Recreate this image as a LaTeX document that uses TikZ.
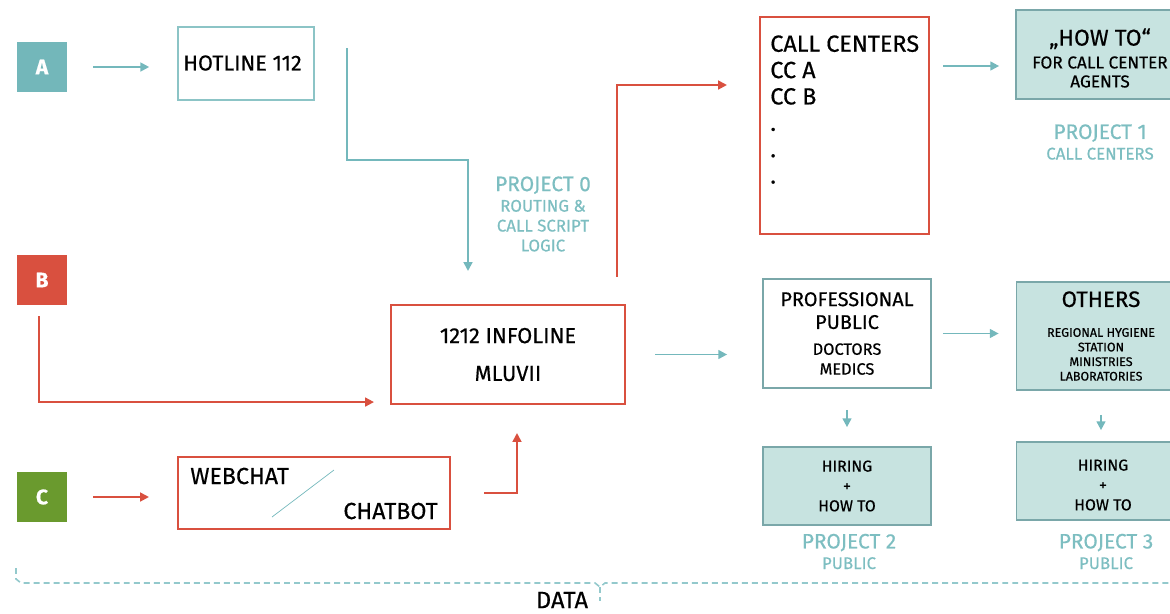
\documentclass[tikz,border=0pt]{standalone}
\usepackage{fontspec}
\setmainfont{Fira Sans}[FakeBold=0.5]
\usetikzlibrary{arrows.meta, positioning}
\definecolor{tealline}{HTML}{74B8BC}
\definecolor{tealfill}{HTML}{73B7BA}
\definecolor{redline}{HTML}{D9503F}
\definecolor{greenfill}{HTML}{6A9A2E}
\definecolor{lightfill}{HTML}{C7E3E0}
\definecolor{darkedge}{HTML}{7AA7A9}
\definecolor{hotedge}{HTML}{8CC4C6}
\definecolor{projtext}{HTML}{7DBEC1}
\definecolor{datadash}{HTML}{93C9CC}
\newcommand{\fsz}[2]{\fontsize{#1}{#2}\selectfont}

\begin{document}
\begin{tikzpicture}[
    x=0.02cm, y=-0.02cm,
    letter/.style={rectangle, minimum size=1cm, inner sep=0pt, text=white, font=\bfseries\fsz{12}{14}},
    box/.style={rectangle, draw, line width=1.2pt, inner sep=0pt, align=center},
    lightbox/.style={box, fill=lightfill, draw=darkedge, line width=1pt},
    proj/.style={text=projtext, align=center, inner sep=0pt, font=\fsz{9.6}{11.3}},
    tealarrow/.style={-{Triangle[length=5pt, width=5pt]}, tealline, line width=1.1pt},
    redarrow/.style={-{Triangle[length=5pt, width=5pt]}, redline, line width=1.1pt}
]
\useasboundingbox (0,0) rectangle (1170,613);
\clip (0,0) rectangle (1170,613);

\node[letter, fill=tealfill] (A) at (42,67) {A};
\node[letter, fill=redline] (B) at (42,280) {B};
\node[letter, fill=greenfill] (C) at (42,497) {C};

\node[box, draw=hotedge, line width=0.9pt, minimum width=2.72cm, minimum height=1.46cm] (hotline) at (246,63.5) {};
\node[font=\fsz{12.3}{14}, inner sep=0pt] (hottext) at (242.5,63) {HOTLINE 112};
\node[box, draw=redline, minimum width=4.68cm, minimum height=1.98cm, font=\fsz{12.4}{21.5}] (infoline) at (508,354.5) {1212 INFOLINE\\MLUVII};

\node[box, draw=redline, minimum width=5.44cm, minimum height=1.44cm] (webchat) at (314,493) {};
\node[anchor=west, inner sep=0pt, font=\fsz{13.2}{15}] (webtext) at (190,476) {WEBCHAT};
\node[anchor=east, inner sep=0pt, font=\fsz{13.2}{15}] (bottext) at (438,511) {CHATBOT};
\draw[tealline, line width=0.4pt] (272,517) -- (334,470);

\node[box, draw=redline, minimum width=3.38cm, minimum height=4.34cm] (callcenters) at (844.5,125.5) {};
\node[anchor=north west, inner sep=0pt, align=left, font=\fsz{13.3}{15}] (cclist) at (770,35) {CALL CENTERS\\CC A\\CC B\\.\\.\\.};

\node[lightbox, minimum width=3.38cm, minimum height=1.78cm] (howto) at (1100.5,54.5) {};
\node[align=center, inner sep=0pt, font=\fsz{9.8}{10.8}] (howtotext) at (1100,58) {{\fsz{13}{15}„HOW TO“}\\[2.2pt]FOR CALL CENTER\\AGENTS};
\node[box, draw=darkedge, line width=1pt, minimum width=3.36cm, minimum height=2.18cm, font=\fsz{9.3}{11.3}] (professional) at (847,333.5) {{\fsz{11.3}{13}PROFESSIONAL}\\[1.7pt]{\fsz{11.3}{13}PUBLIC}\\[3.4pt]DOCTORS\\MEDICS};
\node[lightbox, minimum width=3.38cm, minimum height=2.16cm, font=\fsz{7.1}{8.3}] (others) at (1101,336) {{\fsz{12.7}{15}OTHERS}\\[8.7pt]REGIONAL HYGIENE\\STATION\\MINISTRIES\\LABORATORIES};
\node[lightbox, minimum width=3.36cm, minimum height=1.56cm, font=\fsz{9}{11.3}] (hiringtwo) at (847,486) {HIRING\\+\\HOW TO};
\node[lightbox, minimum width=3.38cm, minimum height=1.56cm] (hiringthree) at (1101,481) {};
\node[align=center, inner sep=0pt, font=\fsz{9}{11.3}] (hiringtext) at (1103,485) {HIRING\\+\\HOW TO};

\node[proj] (projzero) at (543,214) {{\fsz{11.9}{13}PROJECT 0}\\[0.4pt]ROUTING \&\\CALL SCRIPT\\LOGIC};
\node[proj] (projone) at (1100,142) {{\fsz{11.9}{13}PROJECT 1}\\[0.4pt]CALL CENTERS};
\node[proj] (projtwo) at (849,551.5) {{\fsz{11.9}{13}PROJECT 2}\\[0.4pt]PUBLIC};
\node[proj] (projthree) at (1106,551.5) {{\fsz{11.9}{13}PROJECT 3}\\[0.4pt]PUBLIC};

\draw[tealarrow, shorten <=0.52cm, shorten >=0.56cm] (A.east) -- (A.east -| hotline.west);
\draw[tealarrow, shorten >=0.66cm] ([shift={(32,22)}]hotline.north east) -- ++(0,112) -| ([xshift=-0.8cm]infoline.north);
\draw[redarrow, shorten <=0.22cm, shorten >=0.32cm] ([xshift=-0.06cm]B.south) |- ([yshift=0.06cm]infoline.south west);
\draw[redarrow, shorten <=0.54cm, shorten >=0.64cm] ([xshift=-0.18cm]infoline.north east) |- ([yshift=0.81cm]callcenters.west);
\draw[tealarrow, shorten <=0.26cm, shorten >=0.32cm] ([yshift=-0.23cm]howto.west -| callcenters.east) -- ([yshift=-0.23cm]howto.west);
\draw[tealarrow, shorten <=0.58cm, shorten >=0.7cm] (infoline.east) -- (infoline.east -| professional.west);
\draw[tealarrow, shorten <=0.22cm, shorten >=0.34cm] (professional.east) -- (professional.east -| others.west);
\draw[tealarrow, shorten <=0.42cm, shorten >=0.38cm] (professional.south) -- (hiringtwo.north);
\draw[tealarrow, shorten <=0.48cm, shorten >=0.22cm] (others.south) -- (hiringthree.north);
\draw[redarrow, shorten <=0.52cm, shorten >=0.56cm] (C.east) -- (C.east -| webchat.west);
\draw[redarrow, shorten <=0.66cm, shorten >=0.56cm] (webchat.east) -| ([xshift=0.18cm]infoline.south);

\draw[datadash, line width=0.9pt, dash pattern=on 3.4pt off 2.3pt] (16,568) -- (16,579) -- (21,583) -- (595,583) -- (600,587) -- (605,583) -- (1170,583);
\draw[datadash, line width=0.9pt, dash pattern=on 3.4pt off 2.3pt] (600,587) -- (600,601);
\node[font=\fsz{13.5}{15}, inner sep=0pt] (data) at (562,600) {DATA};

\end{tikzpicture}
\end{document}
